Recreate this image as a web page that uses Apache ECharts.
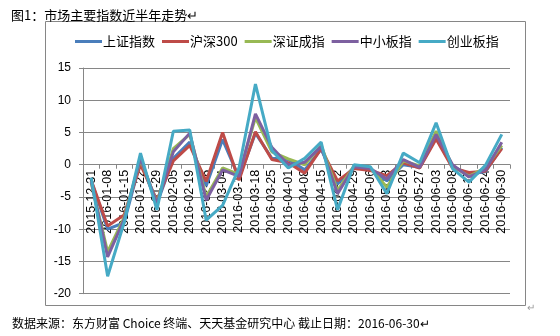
<!DOCTYPE html>
<html>
<head>
<meta charset="utf-8">
<script src="https://cdn.jsdelivr.net/npm/echarts@6/dist/echarts.min.js"></script>
<style>
  html, body { margin: 0; padding: 0; background: #fff; }
  #chart { width: 560px; height: 336px; }
</style>
</head>
<body>
<div id="chart"></div>
<script>
// Weekly dates (last trading day of each week)
const categories = [
  '2015-12-31', '2016-01-08', '2016-01-15', '2016-01-22', '2016-01-29',
  '2016-02-05', '2016-02-19', '2016-02-26', '2016-03-04', '2016-03-11',
  '2016-03-18', '2016-03-25', '2016-04-01', '2016-04-08', '2016-04-15',
  '2016-04-22', '2016-04-29', '2016-05-06', '2016-05-13', '2016-05-20',
  '2016-05-27', '2016-06-03', '2016-06-08', '2016-06-17', '2016-06-24',
  '2016-06-30'
];

// Weekly change (%) of each index
const shangzheng = [-2.5, -10.0, -9.0, 0.5, -6.1, 1.0, 3.5, -3.3, 3.9, -2.0, 4.9, 1.0, 0.8, -0.8, 2.4, -3.0, -0.4, -0.7, -2.5, 0.0, -0.4, 4.2, -0.3, -1.4, -1.1, 2.7];
const hushen300 = [-2.4, -9.5, -7.8, 0.0, -5.5, 0.6, 3.0, -2.6, 5.0, -2.4, 5.1, 0.8, 0.3, -1.3, 2.5, -2.5, -0.6, -0.9, -1.7, 0.3, -0.5, 4.0, -0.5, -1.2, -1.0, 2.5];
const shenzheng = [-2.8, -13.5, -8.2, 0.8, -5.9, 2.5, 4.7, -5.0, -0.5, -1.5, 7.3, 2.0, 0.9, 0.0, 3.0, -4.0, -0.2, -0.5, -3.5, 0.6, -0.2, 5.2, -0.2, -1.8, -0.5, 3.0];
const zhongxiao = [-2.6, -14.3, -8.5, 1.0, -6.0, 2.0, 4.9, -5.5, -0.8, -1.8, 7.9, 2.7, 0.0, 0.4, 2.8, -4.5, -0.3, -0.6, -2.2, 0.8, -0.4, 4.7, 0.0, -1.9, -0.8, 3.5];
const chuangye = [-2.0, -17.3, -9.0, 1.8, -7.0, 5.2, 5.4, -8.6, -6.3, -0.5, 12.5, 2.2, -0.5, 1.0, 3.5, -7.0, 0.0, -0.3, -4.5, 1.8, 0.3, 6.5, -0.6, -2.7, -0.1, 4.7];

const seriesNames = ['上证指数', '沪深300', '深证成指', '中小板指', '创业板指'];
const seriesData = [shangzheng, hushen300, shenzheng, zhongxiao, chuangye];
const colors = ['#4A7EBB', '#BE4B48', '#98B954', '#7D60A0', '#46AAC5'];

const yTicks = { min: -20, max: 15, step: 5 };

const latin = '"Liberation Sans", "Noto Sans CJK SC", sans-serif';
const cjk = '"Noto Sans CJK SC", "Liberation Sans", sans-serif';
const gridColor = '#868686';

const chart = echarts.init(document.getElementById('chart'), null, { renderer: 'canvas' });

chart.setOption({
  animation: false,
  backgroundColor: '#fff',
  color: colors,
  title: {
    text: '图1：市场主要指数近半年走势↵',
    left: 6,
    top: 4,
    textStyle: { fontFamily: cjk, fontSize: 13, fontWeight: 'normal', color: '#000' }
  },
  legend: {
    data: seriesNames,
    left: 70,
    top: 30,
    icon: 'rect',
    itemWidth: 27,
    itemHeight: 3,
    itemGap: 7,
    textStyle: { fontFamily: cjk, fontSize: 13, color: '#000', padding: [0, 0, 0, -4] }
  },
  grid: { left: 83, right: 50, top: 68, bottom: 42.3, outerBoundsMode: 'none' },
  xAxis: {
    type: 'category',
    data: categories,
    boundaryGap: true,
    position: 'bottom',
    z: 1,
    axisLine: { onZero: false, lineStyle: { color: gridColor, width: 1 } },
    axisTick: { show: true, length: 4, lineStyle: { color: gridColor } },
    axisLabel: {
      interval: 0,
      rotate: 90,
      margin: 5,
      fontFamily: latin,
      fontSize: 12.5,
      color: '#000'
    },
    splitLine: { show: false }
  },
  yAxis: {
    type: 'value',
    min: yTicks.min,
    max: yTicks.max,
    interval: yTicks.step,
    z: 0,
    axisLine: { show: true, lineStyle: { color: gridColor, width: 1 } },
    axisTick: { show: true, length: 4, lineStyle: { color: gridColor } },
    axisLabel: { margin: 12, fontFamily: latin, fontSize: 12, color: '#000' },
    splitLine: { show: true, lineStyle: { color: gridColor, width: 1 } }
  },
  series: seriesNames.map((name, i) => ({
    name: name,
    type: 'line',
    data: seriesData[i],
    symbol: 'none',
    smooth: false,
    lineStyle: { width: 3, color: colors[i] },
    itemStyle: { color: colors[i] },
    z: 3 + i
  })),
  graphic: [
    {
      type: 'rect',
      shape: { x: 45.5, y: 21.5, width: 480, height: 284 },
      style: { fill: 'none', stroke: gridColor, lineWidth: 1 },
      silent: true,
      z: -1
    },
    {
      type: 'text',
      left: 527,
      top: 302,
      style: { text: '↵', fontFamily: cjk, fontSize: 10, fill: '#999' }
    },
    {
      type: 'text',
      left: 12,
      top: 317,
      style: {
        text: '数据来源：东方财富 Choice 终端、天天基金研究中心 截止日期：2016-06-30↵',
        fontFamily: cjk,
        fontSize: 12,
        fill: '#000'
      }
    }
  ]
});

// Hang the category axis (line, ticks and labels) from the zero line
const zeroY = chart.convertToPixel({ yAxisIndex: 0 }, 0);
const bottomY = chart.convertToPixel({ yAxisIndex: 0 }, yTicks.min);
chart.setOption({ xAxis: { offset: zeroY - bottomY } });
</script>
</body>
</html>
